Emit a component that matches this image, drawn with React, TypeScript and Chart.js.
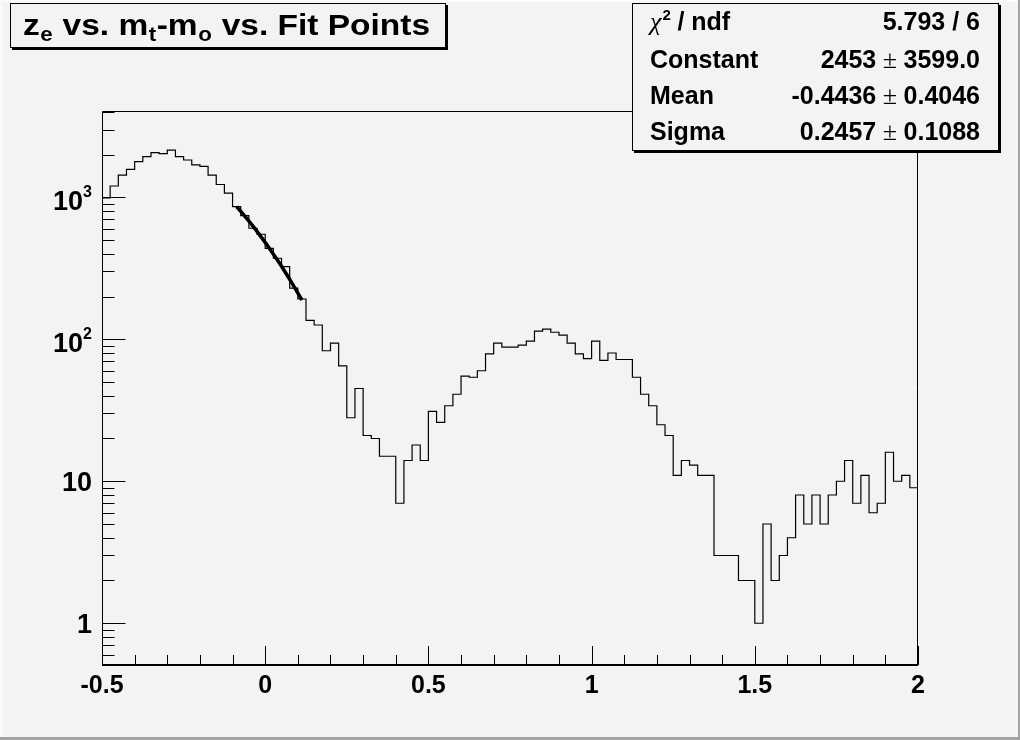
import React, { useEffect, useRef } from "react";
import { Chart, registerables } from "chart.js";

Chart.register(...registerables);

// ---- data ----
const binLow = -0.5;
const binWidth = 0.025;
const counts = [
  990, 1200, 1430, 1570, 1780, 1930, 2060, 2030, 2150, 1930,
  1830, 1690, 1650, 1430, 1230, 1070, 859, 742, 605, 549,
  437, 372, 325, 229, 192, 136, 126, 83, 94, 65,
  28, 45, 21, 20, 15, 15, 7, 14, 18, 14,
  31, 26, 34, 41, 55, 54, 60, 79, 94, 88,
  88, 91, 97, 114, 118, 112, 107, 94, 79, 73,
  97, 71, 80, 72, 72, 54, 41, 34, 25, 21,
  11, 14, 13, 11, 11, 3, 3, 3, 2, 2,
  1, 5, 2, 3, 4, 8, 5, 8, 5, 8,
  10, 14, 7, 11, 6, 7, 16, 10, 11, 9,
];
const fitX = [-0.0875, -0.0625, -0.0375, -0.0125, 0.0125, 0.0375, 0.0625, 0.0875, 0.1125];
const fitY = [858, 737, 626, 526, 438, 361, 294, 237, 189];

const xMajorTicks = [-0.5, 0, 0.5, 1, 1.5, 2];
const xTickLabels = ["-0.5", "0", "0.5", "1", "1.5", "2"];
const xMinorTicks = [-0.4, -0.3, -0.2, -0.1, 0.1, 0.2, 0.3, 0.4, 0.6, 0.7, 0.8, 0.9, 1.1, 1.2, 1.3, 1.4, 1.6, 1.7, 1.8, 1.9];
const yMajorTicks = [1, 10, 100, 1000];
const yTickBase = ["1", "10", "10", "10"];
const yTickExp = ["", "", "2", "3"];
const yMinorTicks = [
  0.6, 0.7, 0.8, 0.9,
  2, 3, 4, 5, 6, 7, 8, 9,
  20, 30, 40, 50, 60, 70, 80, 90,
  200, 300, 400, 500, 600, 700, 800, 900,
  2000, 3000, 4000,
];

const titleParts = [
  { t: "z", sub: false },
  { t: "e", sub: true },
  { t: " vs. m", sub: false },
  { t: "t", sub: true },
  { t: "-m", sub: false },
  { t: "o", sub: true },
  { t: " vs. Fit Points", sub: false },
];
const statsLabels = ["Constant", "Mean", "Sigma"];
const statsValues = ["2453", "-0.4436", "0.2457"];
const statsErrors = ["3599.0", "0.4046", "0.1088"];
const chi2Value = "5.793 / 6";

const BG = "#f3f3f3";
const SANS = '"Liberation Sans", Arial, Helvetica, sans-serif';
const SERIF = '"Liberation Serif", "DejaVu Serif", serif';

const rootPlugin = {
  id: "rootStyle",
  beforeDraw(chart: any) {
    const ctx = chart.ctx;
    ctx.save();
    ctx.fillStyle = BG;
    ctx.fillRect(0, 0, chart.width, chart.height);
    ctx.restore();
  },
  afterDraw(chart: any) {
    const ctx: CanvasRenderingContext2D = chart.ctx;
    const a = chart.chartArea;
    const xs = chart.scales.x;
    const ys = chart.scales.y;
    ctx.save();

    // canvas bevel
    ctx.fillStyle = "#fbfbfb";
    ctx.fillRect(0, 0, 2, chart.height);
    ctx.fillRect(0, 0, chart.width, 2);
    ctx.fillStyle = "#a3a3a3";
    ctx.fillRect(chart.width - 2, 0, 2, chart.height);
    ctx.fillRect(0, chart.height - 3, chart.width, 3);

    // frame
    ctx.strokeStyle = "#000";
    ctx.lineWidth = 1;
    const L = Math.round(a.left) + 0.5;
    const R = Math.round(a.right) - 0.5;
    const T = Math.round(a.top) + 0.5;
    const B = Math.round(a.bottom);
    ctx.beginPath();
    ctx.moveTo(L, B);
    ctx.lineTo(L, T);
    ctx.lineTo(R, T);
    ctx.lineTo(R, B);
    ctx.stroke();
    ctx.lineWidth = 2;
    ctx.beginPath();
    ctx.moveTo(L - 0.5, B);
    ctx.lineTo(R + 0.5, B);
    ctx.stroke();

    // x ticks
    ctx.lineWidth = 1;
    ctx.beginPath();
    xMajorTicks.forEach((v) => {
      const px = Math.round(xs.getPixelForValue(v)) + 0.5;
      ctx.moveTo(px, B);
      ctx.lineTo(px, B - 19);
    });
    xMinorTicks.forEach((v) => {
      const px = Math.round(xs.getPixelForValue(v)) + 0.5;
      ctx.moveTo(px, B);
      ctx.lineTo(px, B - 10);
    });
    // y ticks
    yMajorTicks.forEach((v) => {
      const py = Math.round(ys.getPixelForValue(v)) + 0.5;
      ctx.moveTo(L, py);
      ctx.lineTo(L + 23, py);
    });
    yMinorTicks.forEach((v) => {
      const py = Math.round(ys.getPixelForValue(v)) + 0.5;
      if (py < a.top + 1) return;
      ctx.moveTo(L, py);
      ctx.lineTo(L + 12, py);
    });
    ctx.stroke();

    // x labels
    ctx.fillStyle = "#000";
    ctx.font = `bold 25px ${SANS}`;
    ctx.textAlign = "center";
    ctx.textBaseline = "alphabetic";
    xMajorTicks.forEach((v, i) => {
      ctx.fillText(xTickLabels[i], xs.getPixelForValue(v), 693);
    });

    // y labels
    const yRight = 92;
    yMajorTicks.forEach((v, i) => {
      const py = ys.getPixelForValue(v);
      const exp = yTickExp[i];
      ctx.textAlign = "left";
      if (exp) {
        ctx.font = `bold 16px ${SANS}`;
        const ew = ctx.measureText(exp).width;
        ctx.fillText(exp, yRight - ew, py + 0);
        ctx.font = `bold 27px ${SANS}`;
        const bw = ctx.measureText(yTickBase[i]).width;
        ctx.fillText(yTickBase[i], yRight - ew - bw, py + 13);
      } else {
        ctx.font = `bold 27px ${SANS}`;
        const bw = ctx.measureText(yTickBase[i]).width;
        ctx.fillText(yTickBase[i], yRight - bw, py + 10);
      }
    });

    // boxes with drop shadow
    const drawBox = (x0: number, y0: number, x1: number, y1: number) => {
      ctx.fillStyle = "#000";
      ctx.fillRect(x0 + 2, y0 + 2, x1 - x0, y1 - y0);
      ctx.fillStyle = BG;
      ctx.fillRect(x0, y0, x1 - x0, y1 - y0);
      ctx.strokeStyle = "#000";
      ctx.lineWidth = 1;
      ctx.strokeRect(x0 + 0.5, y0 + 0.5, x1 - x0 - 1, y1 - y0 - 1);
    };
    drawBox(10, 3, 446, 48);

    // title text, scaled horizontally to the reference width
    const mainFont = `bold 30px ${SANS}`;
    const subFont = `bold 20px ${SANS}`;
    let natural = 0;
    titleParts.forEach((p) => {
      ctx.font = p.sub ? subFont : mainFont;
      natural += ctx.measureText(p.t).width + (p.sub ? 1 : 0);
    });
    const target = 407;
    const sx = target / natural;
    ctx.save();
    ctx.translate(23, 0);
    ctx.scale(sx, 1);
    ctx.fillStyle = "#000";
    ctx.textAlign = "left";
    let cx = 0;
    titleParts.forEach((p) => {
      ctx.font = p.sub ? subFont : mainFont;
      ctx.fillText(p.t, cx + (p.sub ? 0.5 : 0), p.sub ? 41 : 35);
      cx += ctx.measureText(p.t).width + (p.sub ? 1 : 0);
    });
    ctx.restore();

    // stats box
    drawBox(632, 3, 999, 151);
    ctx.fillStyle = "#000";
    ctx.textAlign = "left";
    const lx = 650;
    const rx = 980;
    // chi2 row
    ctx.font = `italic 26px ${SERIF}`;
    ctx.fillText("\u03c7", lx, 30);
    const chiW = ctx.measureText("\u03c7").width;
    ctx.font = `bold 15px ${SANS}`;
    ctx.fillText("2", lx + chiW + 1, 20);
    ctx.font = `bold 25px ${SANS}`;
    ctx.fillText(" / ndf", lx + chiW + 9, 30);
    ctx.textAlign = "right";
    ctx.fillText(chi2Value, rx, 30);
    const rowsY = [68, 104, 140];
    statsLabels.forEach((lab, i) => {
      const yb = rowsY[i];
      ctx.textAlign = "left";
      ctx.font = `bold 25px ${SANS}`;
      ctx.fillText(lab, lx, yb);
      ctx.textAlign = "right";
      const err = statsErrors[i];
      ctx.font = `bold 25px ${SANS}`;
      const ew = ctx.measureText(err).width;
      ctx.fillText(err, rx, yb);
      ctx.font = `26px ${SERIF}`;
      const pm = " \u00b1 ";
      const pw = ctx.measureText(pm).width;
      ctx.fillText(pm, rx - ew, yb);
      ctx.font = `bold 25px ${SANS}`;
      ctx.fillText(statsValues[i], rx - ew - pw, yb);
    });

    ctx.restore();
  },
};

export default function App() {
  const ref = useRef<HTMLCanvasElement | null>(null);
  useEffect(() => {
    document.body.style.margin = "0";
    const canvas = ref.current;
    if (!canvas) return;
    const histPoints = counts.map((c, i) => ({ x: binLow + i * binWidth, y: c }));
    histPoints.push({ x: binLow + counts.length * binWidth, y: counts[counts.length - 1] });
    const fitPoints = fitX.map((x, i) => ({ x, y: fitY[i] }));
    const chart = new Chart(canvas, {
      type: "line",
      data: {
        datasets: [
          {
            label: "hist",
            data: histPoints,
            stepped: true,
            borderColor: "#000",
            borderWidth: 1.2,
            pointRadius: 0,
            fill: false,
            tension: 0,
          },
          {
            label: "fit",
            data: fitPoints,
            borderColor: "#000",
            borderWidth: 3.5,
            pointRadius: 0,
            fill: false,
            tension: 0.3,
          },
        ],
      },
      options: {
        responsive: false,
        animation: false,
        devicePixelRatio: 1,
        parsing: true,
        layout: { padding: { left: 102, right: 102, top: 111, bottom: 75 } },
        plugins: { legend: { display: false }, tooltip: { enabled: false }, title: { display: false } },
        scales: {
          x: { type: "linear", min: -0.5, max: 2, display: false },
          y: { type: "logarithmic", min: 0.508, max: 4050, display: false },
        },
      },
      plugins: [rootPlugin],
    } as any);
    return () => chart.destroy();
  }, []);
  return (
    <div style={{ position: "absolute", left: 0, top: 0, width: 1020, height: 740 }}>
      <canvas ref={ref} width={1020} height={740} style={{ display: "block" }} />
    </div>
  );
}
